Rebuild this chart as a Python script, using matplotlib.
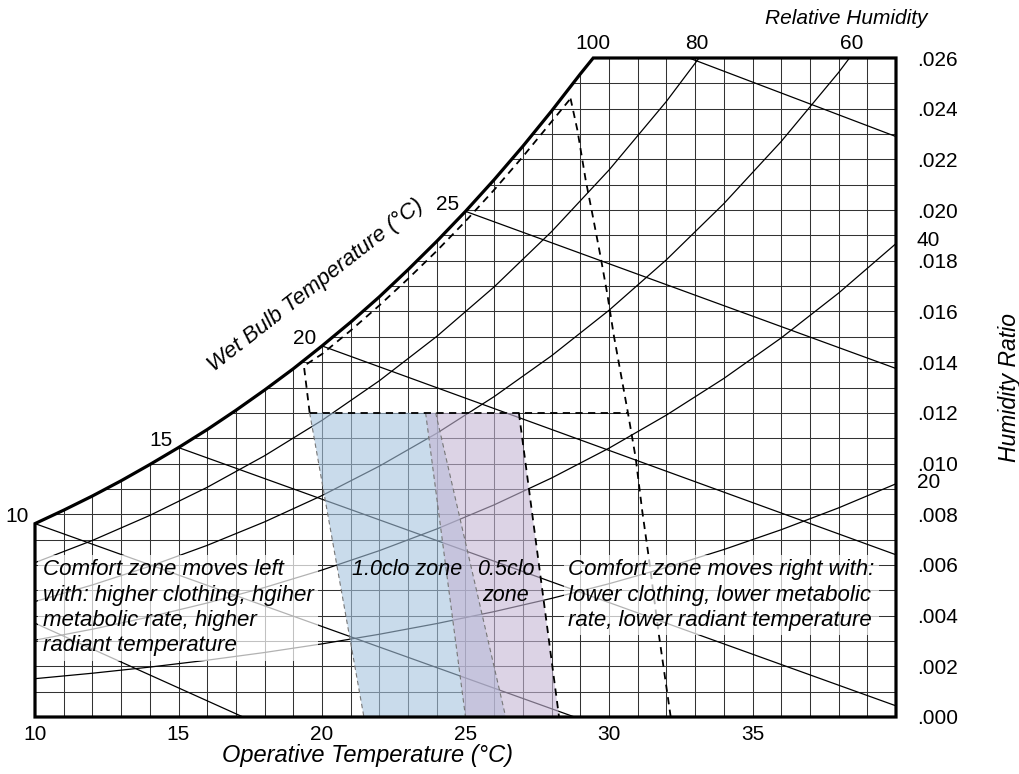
import numpy as np
import matplotlib.pyplot as plt
from matplotlib.patches import Polygon

plt.rcParams['font.family'] = ['Liberation Sans', 'DejaVu Sans']

# saturation curve (100% RH)
sat_t = [10, 11, 12, 13, 14, 15, 16, 17, 18, 19, 20, 21, 22, 23, 24, 25, 26, 27, 28, 29, 29.45]
sat_w = [.00763, .00816, .00872, .00932, .00996, .01063, .01134, .01210, .01290, .01374, .01464,
         .01558, .01658, .01765, .01877, .01995, .02120, .02252, .02391, .02537, .02600]

# relative humidity curves
rh80_t = [10, 12, 14, 16, 18, 20, 22, 24, 26, 28, 30, 32, 34]
rh80_w = [.006091, .006966, .007953, .009062, .010308, .011704, .013268, .015017, .016971,
          .019151, .021580, .024287, .027299]
rh_t = [10, 12, 14, 16, 18, 20, 22, 24, 26, 28, 30, 32, 34, 36, 38, 40]
rh60_w = [.004557, .005210, .005946, .006772, .007699, .008737, .009898, .011195, .012642,
          .014253, .016046, .018039, .020252, .022707, .025429, .028444]
rh40_w = [.003031, .003464, .003951, .004498, .005111, .005798, .006564, .007419, .008371,
          .009430, .010606, .011911, .013356, .014956, .016725, .018678]
rh20_w = [.001512, .001727, .001969, .002241, .002545, .002885, .003265, .003687, .004158,
          .004680, .005258, .005899, .006607, .007389, .008251, .009201]

# wet bulb lines (start, end)
wb_lines = [
    ((10, .0037), (17.25, 0.0)),
    ((10, .00763), (28.8, 0.0)),
    ((15, .01063), (40, .00044)),
    ((20, .01464), (40, .0064)),
    ((25, .01995), (40, .01375)),
    ((30, .0272), (40, .0229)),
]
wb_labels = ["10", "15", "20", "25"]
wb_label_pts = [(10, .00763), (15, .01063), (20, .01464), (25, .01995)]

# comfort zones
zone10_t = [19.57, 23.96, 26.4, 21.46]
zone10_w = [.012, .012, 0.0, 0.0]
zone05_t = [23.61, 26.86, 28.26, 25.0]
zone05_w = [.012, .012, 0.0, 0.0]

# dashed outline
upper_t = [19.57, 19.37, 20, 21, 22, 23, 24, 25, 26, 27, 28, 28.66]
upper_w = [.012, .01385, .01432, .01525, .01624, .01729, .01839, .01956, .02080, .02211, .02349, .0244]
right_t = [28.66, 28.9, 29.19, 29.42, 29.71, 29.94, 30.17, 30.66, 30.93, 31.16, 31.39, 31.74, 32.15]
right_w = [.0244, .02315, .02117, .01985, .01814, .01669, .01504, .012, .01022, .00811, .00626, .00323, 0.0]
hline_t = [19.57, 30.66]
hline_w = [.012, .012]

xticks = [10, 15, 20, 25, 30, 35]
yticks = [0, .002, .004, .006, .008, .010, .012, .014, .016, .018, .020, .022, .024, .026]

fig = plt.figure(figsize=(10.2, 7.74), dpi=100)
ax = fig.add_axes([35 / 1020, 57 / 774, 861 / 1020, 659 / 774])
ax.set_xlim(10, 40)
ax.set_ylim(0, .026)

outline = [(10, 0)] + list(zip(sat_t, sat_w)) + [(40, .026), (40, 0)]
clip = Polygon(outline, closed=True, transform=ax.transData)

def clipped(line_list):
    for ln in line_list:
        ln.set_clip_path(clip)

# grid
for t in range(11, 40):
    clipped(ax.plot([t, t], [0, .026], color='#333333', lw=0.75, zorder=1))
for k in range(1, 26):
    clipped(ax.plot([10, 40], [k / 1000, k / 1000], color='#333333', lw=0.75, zorder=1))

# curves
clipped(ax.plot(rh80_t, rh80_w, color='black', lw=0.9, zorder=2))
for w in (rh60_w, rh40_w, rh20_w):
    clipped(ax.plot(rh_t, w, color='black', lw=0.9, zorder=2))
for (a, b) in wb_lines:
    clipped(ax.plot([a[0], b[0]], [a[1], b[1]], color='black', lw=0.9, zorder=2))

# zones
ax.fill(zone10_t, zone10_w, color=(165 / 255, 195 / 255, 222 / 255), alpha=0.6, lw=0, zorder=3)
ax.fill(zone05_t, zone05_w, color=(197 / 255, 182 / 255, 213 / 255), alpha=0.6, lw=0, zorder=3)
ax.plot([zone10_t[0], zone10_t[3]], [zone10_w[0], zone10_w[3]], color='#777777', lw=0.8, ls=(0, (4, 3)), zorder=3)
ax.plot([zone10_t[1], zone10_t[2]], [zone10_w[1], zone10_w[2]], color='#777777', lw=0.8, ls=(0, (4, 3)), zorder=3)
ax.plot([zone05_t[0], zone05_t[3]], [zone05_w[0], zone05_w[3]], color='#777777', lw=0.8, ls=(0, (4, 3)), zorder=3)
ax.plot([zone05_t[1], zone05_t[2]], [zone05_w[1], zone05_w[2]], color='black', lw=1.3, ls=(0, (4, 3)), zorder=3)

# dashed outline
ax.plot(upper_t, upper_w, color='black', lw=1.3, ls=(0, (4, 3)), zorder=3)
ax.plot(right_t, right_w, color='black', lw=1.3, ls=(0, (4, 3)), zorder=3)
ax.plot(hline_t, hline_w, color='black', lw=1.3, ls=(0, (4, 3)), zorder=3)

# chart boundary
ax.add_patch(Polygon(outline, closed=True, fill=False, edgecolor='black', lw=2.3,
                     joinstyle='miter', zorder=6, clip_on=False))
for s in ax.spines.values():
    s.set_visible(False)

# labels on curves
for lab, (t, w) in zip(wb_labels, wb_label_pts):
    ax.annotate(lab, (t, w), xytext=(-6, 7), textcoords='offset pixels', ha='right', va='center', fontsize=15)
ax.annotate("100", (29.45, .026), xytext=(0, 15), textcoords='offset pixels', ha='center', va='center', fontsize=15)
ax.annotate("80", (33.05, .026), xytext=(0, 15), textcoords='offset pixels', ha='center', va='center', fontsize=15)
ax.annotate("60", (38.45, .026), xytext=(0, 15), textcoords='offset pixels', ha='center', va='center', fontsize=15)
ax.annotate("40", (40, rh40_w[-1]), xytext=(21, 3), textcoords='offset pixels', ha='left', va='center', fontsize=15)
ax.annotate("20", (40, rh20_w[-1]), xytext=(21, 1), textcoords='offset pixels', ha='left', va='center', fontsize=15)

ax.text(38.26, .02755, "Relative Humidity", fontsize=15, style='italic', ha='center', va='center')
ax.text(16.25, .01362, "Wet Bulb Temperature (°C)", fontsize=16, style='italic', rotation=38,
        rotation_mode='anchor', ha='left', va='baseline')

box = dict(facecolor='white', alpha=0.7, edgecolor='none', boxstyle='square,pad=0.2')
ax.text(10.27, .00622, "Comfort zone moves left\nwith: higher clothing, hgiher\nmetabolic rate, higher\nradiant temperature",
        fontsize=16, style='italic', ha='left', va='top', linespacing=1.27, bbox=box, zorder=7)
ax.text(28.57, .00622, "Comfort zone moves right with:\nlower clothing, lower metabolic\nrate, lower radiant temperature",
        fontsize=16, style='italic', ha='left', va='top', linespacing=1.27, bbox=box, zorder=7)
ax.text(22.95, .0058, "1.0clo zone", fontsize=15.5, style='italic', ha='center', va='center', zorder=7)
ax.text(26.4, .0058, "0.5clo", fontsize=15.5, style='italic', ha='center', va='center', zorder=7)
ax.text(26.4, .0048, "zone", fontsize=15.5, style='italic', ha='center', va='center', zorder=7)

ax.set_xticks(xticks)
ax.set_xticklabels([str(v) for v in xticks], fontsize=15)
ax.set_yticks(yticks)
ax.set_yticklabels(["." + f"{v:.3f}".split(".")[1] for v in yticks], fontsize=15)
ax.yaxis.tick_right()
ax.tick_params(axis='both', length=0)
ax.tick_params(axis='y', pad=15)
ax.tick_params(axis='x', pad=6)
ax.yaxis.set_label_position('right')
ax.set_ylabel("Humidity Ratio", fontsize=16.5, style='italic', labelpad=29)
ax.text(21.6, -0.0015, "Operative Temperature (°C)", fontsize=17, style='italic', ha='center', va='center')

fig.savefig("out.png", dpi=100)
